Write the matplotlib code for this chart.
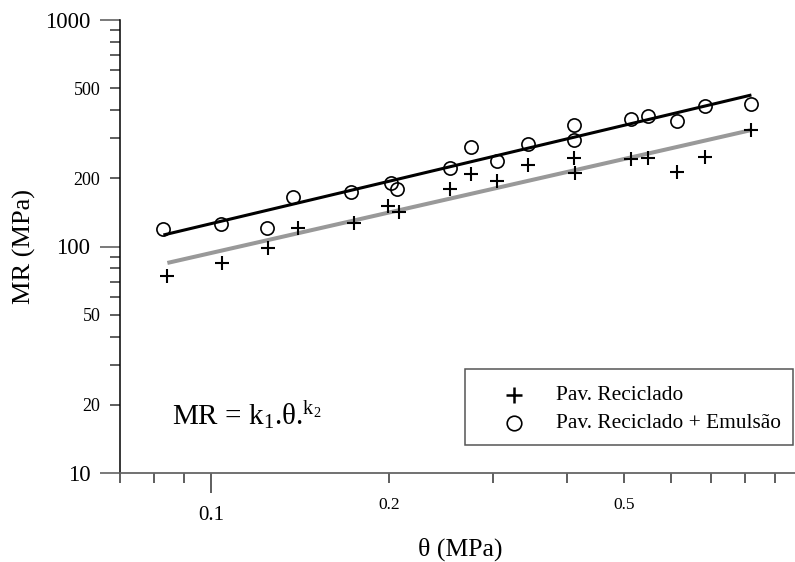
import numpy as np
import matplotlib
matplotlib.use('Agg')
import matplotlib.pyplot as plt
from matplotlib.ticker import FixedLocator, FuncFormatter
from matplotlib.lines import Line2D
from matplotlib.patches import Rectangle

# Pav. Reciclado (+)
theta_rec = [0.0842, 0.104, 0.1249, 0.140, 0.174, 0.199, 0.208, 0.253,
             0.275, 0.305, 0.344, 0.411, 0.413, 0.514, 0.549, 0.615, 0.686, 0.821]
mr_rec = [74.1, 84.6, 98.5, 120.7, 127.0, 150.9, 142.0, 180.3,
          209.0, 194.6, 229.0, 245.9, 211.1, 243.4, 245.9, 213.3, 248.4, 326.8]

# Pav. Reciclado + Emulsao (o)
theta_emu = [0.0829, 0.1036, 0.1244, 0.1376, 0.1725, 0.2017, 0.2064, 0.253,
             0.275, 0.305, 0.344, 0.411, 0.411, 0.514, 0.549, 0.615, 0.686, 0.821]
mr_emu = [119.5, 125.7, 120.7, 165.4, 174.0, 190.7, 179.4, 222.2,
          275.0, 238.5, 283.5, 343.9, 295.2, 365.6, 377.0, 358.3, 417.2, 425.8]

# power-law fits (end points)
fit_theta_emu = [0.0829, 0.821]
fit_mr_emu = [112.4, 466.6]
fit_theta_rec = [0.0842, 0.821]
fit_mr_rec = [84.6, 326.8]

y_labels = {10: '10', 20: '20', 50: '50', 100: '100', 200: '200', 500: '500', 1000: '1000'}
x_labels = {0.1: '0.1', 0.2: '0.2', 0.5: '0.5'}

plt.rcParams['font.family'] = ['Liberation Serif', 'DejaVu Serif']
plt.rcParams['mathtext.fontset'] = 'custom'
plt.rcParams['mathtext.rm'] = 'Liberation Serif'
plt.rcParams['mathtext.it'] = 'Liberation Serif:italic'

fig = plt.figure(figsize=(7.95, 5.62), dpi=100)
W, H = 795.0, 562.0
ax = fig.add_axes([120 / W, 1 - 473 / H, (802 - 120) / W, 453 / H])
ax.set_xscale('log')
ax.set_yscale('log')
ax.set_xlim(0.07, 1.0)
ax.set_ylim(10, 1000)

ax.plot(fit_theta_rec, fit_mr_rec, color='#999999', lw=2.9, solid_capstyle='butt', zorder=2)
ax.plot(theta_rec, mr_rec, ls='none', marker='+', ms=10, mew=1.5, color='black', zorder=3)
ax.plot(fit_theta_emu, fit_mr_emu, color='black', lw=2.2, solid_capstyle='butt', zorder=4)
ax.plot(theta_emu, mr_emu, ls='none', marker='o', ms=9.5, mew=1.2,
        mfc='none', mec='black', zorder=5)

# spines
for s in ['top', 'right']:
    ax.spines[s].set_visible(False)
ax.spines['left'].set_color('black')
ax.spines['left'].set_linewidth(1.1)
ax.spines['bottom'].set_color('#666666')
ax.spines['bottom'].set_linewidth(1.3)

# y ticks
ax.yaxis.set_major_locator(FixedLocator([10, 100, 1000]))
ax.yaxis.set_minor_locator(FixedLocator([v * d for d in (10, 100) for v in range(2, 10)]))
ax.yaxis.set_major_formatter(FuncFormatter(lambda v, p: y_labels.get(int(round(v)), '')))
ax.yaxis.set_minor_formatter(FuncFormatter(lambda v, p: y_labels.get(int(round(v)), '')))
ax.tick_params(axis='y', which='major', length=14.4, width=1.1, color='#555555',
               pad=7, labelsize=16.5)
ax.tick_params(axis='y', which='minor', length=7.2, width=1.1, color='#333333',
               pad=7, labelsize=13)

# x ticks
ax.xaxis.set_major_locator(FixedLocator([0.1, 1.0]))
ax.xaxis.set_minor_locator(FixedLocator([0.07, 0.08, 0.09] + [v / 10 for v in range(2, 10)]))
ax.xaxis.set_major_formatter(FuncFormatter(lambda v, p: x_labels.get(round(v, 2), '')))
ax.xaxis.set_minor_formatter(FuncFormatter(lambda v, p: x_labels.get(round(v, 2), '')))
ax.tick_params(axis='x', which='major', length=14.4, width=1.1, color='#333333',
               pad=9, labelsize=15)
ax.tick_params(axis='x', which='minor', length=7.2, width=1.1, color='#333333',
               pad=10, labelsize=12.5)

fig.text(24 / W, 1 - 246 / H, 'MR (MPa)', rotation=90, ha='center', va='center', fontsize=19)
fig.text(460 / W, 1 - 549 / H, 'θ (MPa)', ha='center', va='center', fontsize=18.5)

fig.text(172 / W, 1 - 425 / H, r'MR = k$_1$.θ.$^{\mathrm{k}_2}$', ha='left',
         va='baseline', fontsize=21)

# legend box
fig.patches.append(Rectangle((465 / W, 1 - 445 / H), (793 - 465) / W, (445 - 369) / H,
                             transform=fig.transFigure, fill=False,
                             edgecolor='#555555', lw=1.1))
fig.add_artist(Line2D([514 / W], [1 - 395 / H], ls='none', marker='+', ms=12, mew=1.8,
                      color='black', transform=fig.transFigure))
fig.add_artist(Line2D([514 / W], [1 - 423 / H], ls='none', marker='o', ms=10.5, mew=1.2,
                      mfc='none', mec='black', transform=fig.transFigure))
fig.text(556 / W, 1 - 395 / H, 'Pav. Reciclado', ha='left', va='center', fontsize=15.4)
fig.text(556 / W, 1 - 423 / H, 'Pav. Reciclado + Emulsão', ha='left', va='center', fontsize=15.4)

fig.savefig('out.png', dpi=100)
